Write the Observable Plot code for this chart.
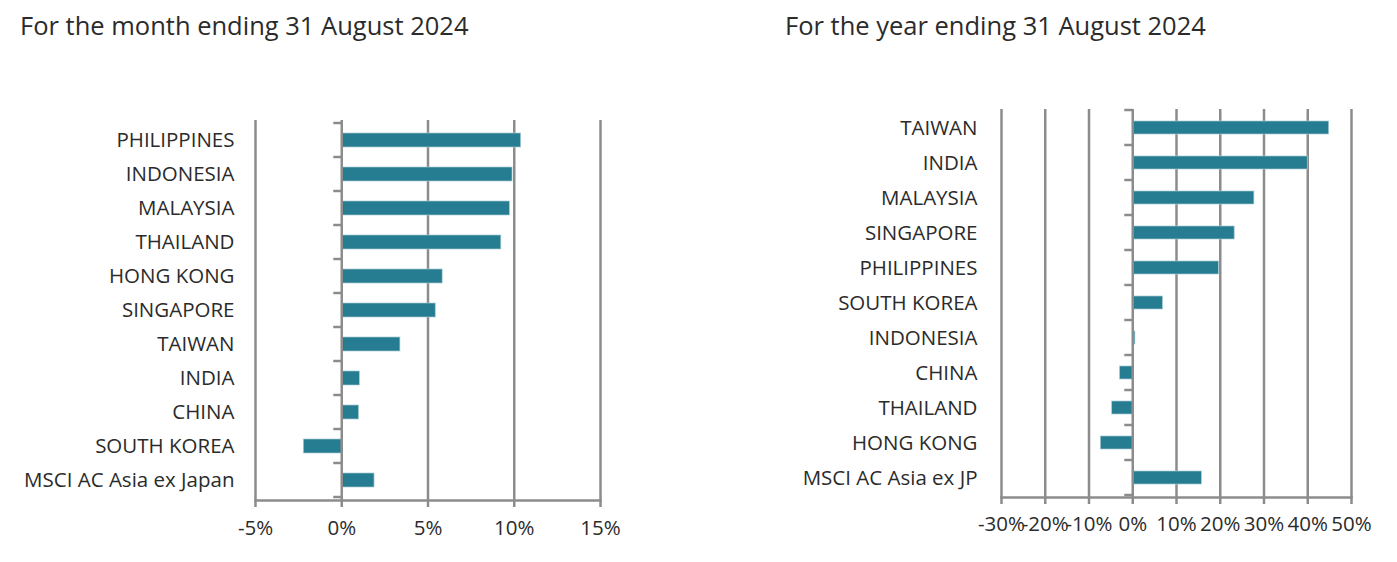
<!DOCTYPE html>
<html>
<head>
<meta charset="utf-8">
<script src="https://cdn.jsdelivr.net/npm/d3@7"></script>
<script src="https://cdn.jsdelivr.net/npm/@observablehq/plot@0.6"></script>
<style>
  html, body { margin: 0; padding: 0; background: #ffffff; }
  body { width: 1397px; height: 562px; position: relative; overflow: hidden; font-family: "Open Sans", sans-serif; }
  .title { position: absolute; top: 10px; font-size: 25.5px; color: #2b2b2b; white-space: nowrap; line-height: 1.2; }
  .chart { position: absolute; top: 50px; }
</style>
</head>
<body>
<div class="title" style="left:20px">For the month ending 31 August 2024</div>
<div class="title" style="left:785px">For the year ending 31 August 2024</div>
<div class="chart" id="left" style="left:0px"></div>
<div class="chart" id="right" style="left:700px"></div>
<script>
// ---- Data ----
const monthCategories = ["PHILIPPINES", "INDONESIA", "MALAYSIA", "THAILAND", "HONG KONG", "SINGAPORE", "TAIWAN", "INDIA", "CHINA", "SOUTH KOREA", "MSCI AC Asia ex Japan"];
const monthValues = [10.4, 9.9, 9.75, 9.25, 5.85, 5.45, 3.4, 1.05, 1.0, -2.2, 1.9];
const monthTicks = [-5, 0, 5, 10, 15];

const yearCategories = ["TAIWAN", "INDIA", "MALAYSIA", "SINGAPORE", "PHILIPPINES", "SOUTH KOREA", "INDONESIA", "CHINA", "THAILAND", "HONG KONG", "MSCI AC Asia ex JP"];
const yearValues = [44.9, 40.0, 27.8, 23.3, 19.7, 6.9, 0.6, -2.9, -4.7, -7.3, 15.8];
const yearTicks = [-30, -20, -10, 0, 10, 20, 30, 40, 50];

// ---- Style ----
const FONT = "'Open Sans', sans-serif";
const TEXT = "#2b2b2b";
const GRID = "#8c8c8c";
const BAR = "#267c90";

function boundaryTicks(cats) {
  return (index, scales, values, dims) => {
    const y = scales.y, x = scales.x;
    const bw = y.bandwidth ? y.bandwidth() : 0;
    const centers = cats.map(c => y(c) + bw / 2);
    const step = centers[1] - centers[0];
    const ys = centers.map(c => c - step / 2).concat([centers[centers.length - 1] + step / 2]);
    const x0 = x(0);
    const g = d3.create("svg:g");
    g.selectAll("line").data(ys).join("line")
      .attr("x1", x0 - 8).attr("x2", x0)
      .attr("y1", d => d).attr("y2", d => d)
      .attr("stroke", GRID).attr("stroke-width", 2.5);
    return g.node();
  };
}

function makeChart(cats, vals, ticks, o) {
  const data = cats.map((c, i) => ({ c, v: vals[i] }));
  const fmt = d => d + "%";
  return Plot.plot({
    width: o.width, height: o.height,
    marginLeft: o.ml, marginRight: o.mr, marginTop: o.mt, marginBottom: o.mb,
    style: { fontFamily: FONT, fontSize: o.fs + "px", color: TEXT, background: "transparent", overflow: "visible" },
    x: { domain: [ticks[0], ticks[ticks.length - 1]] },
    y: { domain: cats, paddingInner: o.pad, paddingOuter: o.pad / 2 },
    marks: [
      Plot.ruleX(ticks.filter(t => t !== 0), { stroke: GRID, strokeWidth: 2.5 }),
      Plot.barX(data, { x: "v", y: "c", fill: BAR, stroke: "#a8ccd4", strokeWidth: 0.7 }),
      Plot.ruleX([0], { stroke: GRID, strokeWidth: 2.5 }),
      boundaryTicks(cats),
      Plot.frame({ anchor: "bottom", stroke: GRID, strokeWidth: 2.5 }),
      Plot.axisX({ ticks, tickFormat: fmt, tickSize: 7, tickPadding: o.tp, stroke: GRID, strokeWidth: 2.5, fill: TEXT, label: null, fontSize: o.fs }),
      Plot.axisY({ tickSize: 0, tickPadding: o.lp, fill: TEXT, label: null, fontSize: o.fs })
    ]
  });
}

document.getElementById("left").append(
  makeChart(monthCategories, monthValues, monthTicks, { width: 640, height: 510, ml: 255, mr: 40, mt: 70, mb: 60, fs: 20.5, pad: 0.6, tp: 13, lp: 21 })
);
document.getElementById("right").append(
  makeChart(yearCategories, yearValues, yearTicks, { width: 696, height: 507, ml: 301, mr: 45, mt: 59, mb: 60, fs: 20.5, pad: 0.62, tp: 12, lp: 24 })
);
</script>
</body>
</html>
